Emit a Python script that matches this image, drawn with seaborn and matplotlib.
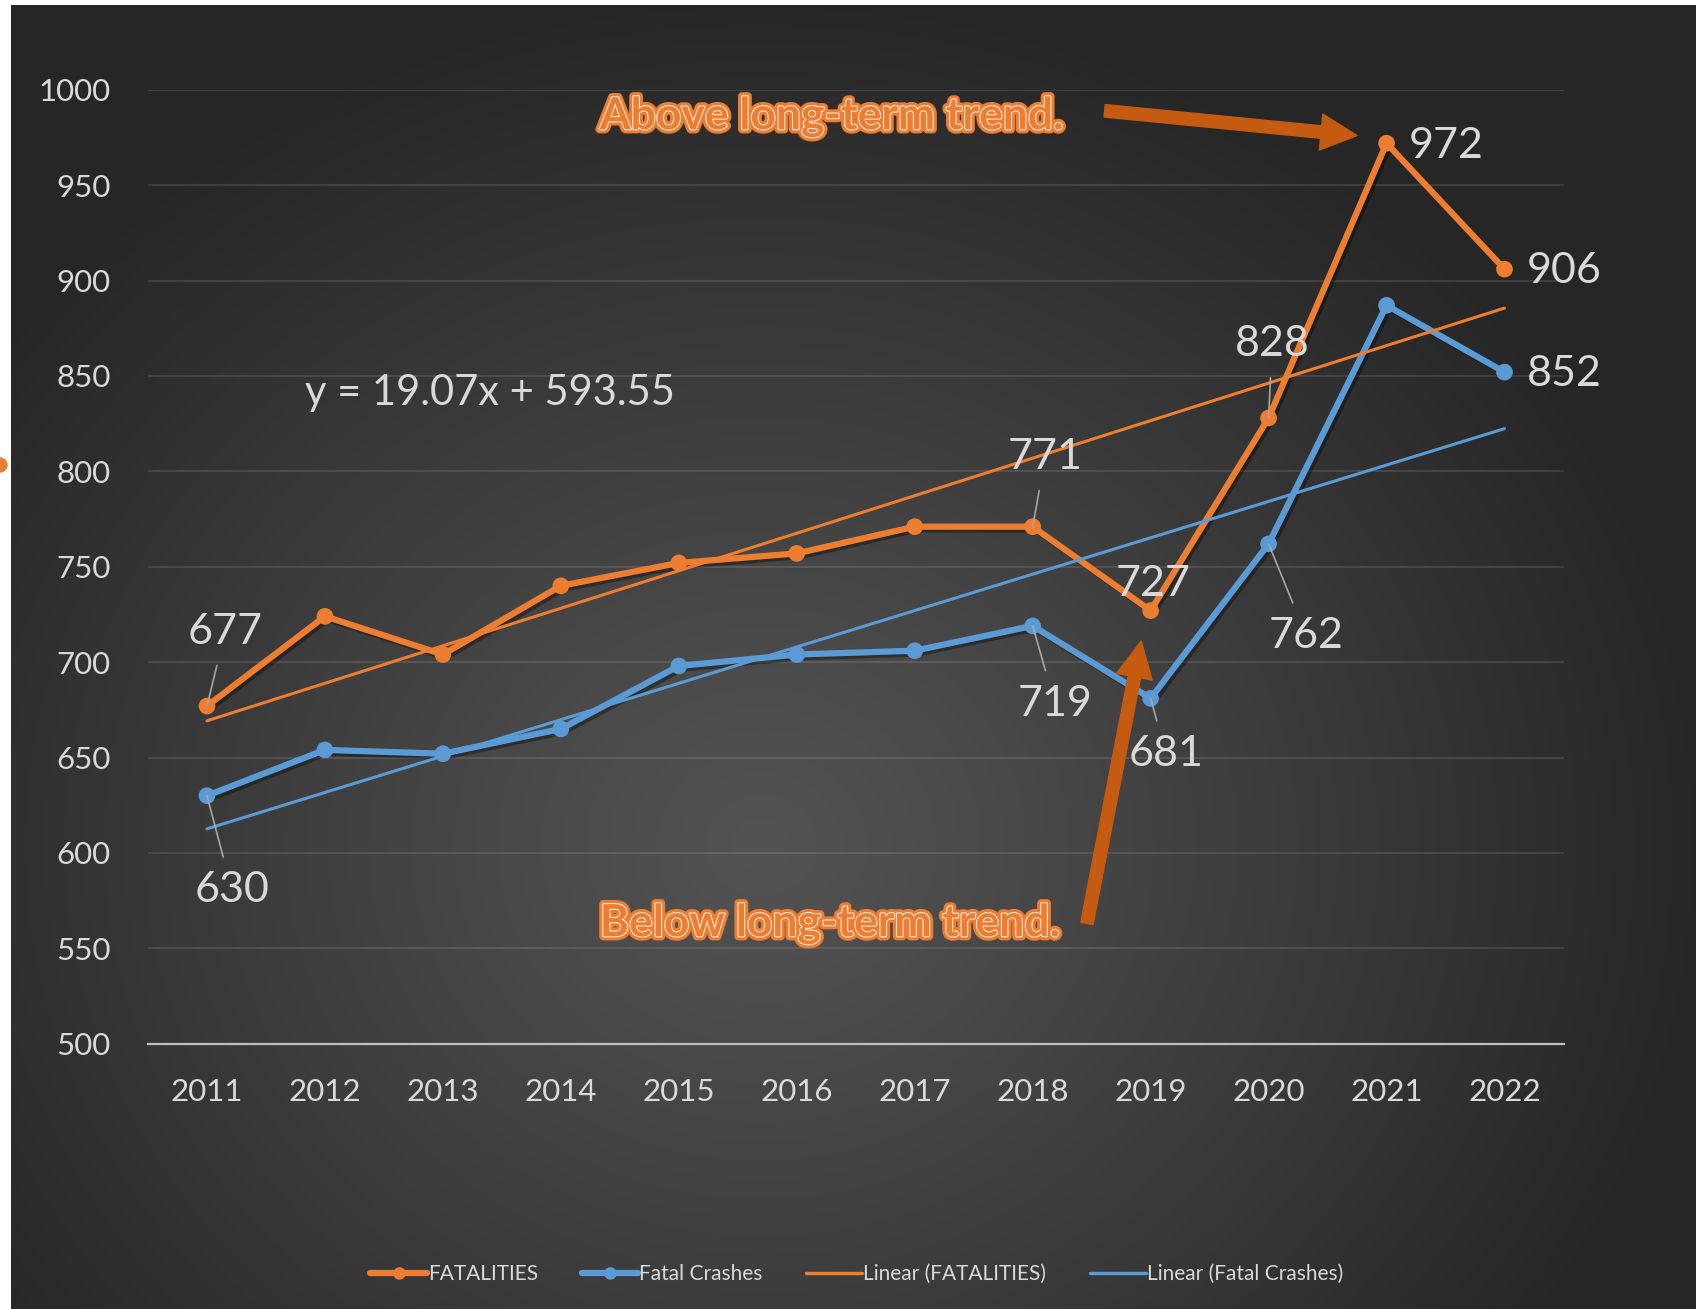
import numpy as np
import pandas as pd
import matplotlib
matplotlib.use("Agg")
import matplotlib.pyplot as plt
import matplotlib.patheffects as pe
from matplotlib.lines import Line2D
import seaborn as sns

# data
years = [2011, 2012, 2013, 2014, 2015, 2016, 2017, 2018, 2019, 2020, 2021, 2022]
fatalities = [677, 724, 704, 740, 752, 757, 771, 771, 727, 828, 972, 906]
fatal_crashes = [630, 654, 652, 665, 698, 704, 706, 719, 681, 762, 887, 852]
y_ticks = [500, 550, 600, 650, 700, 750, 800, 850, 900, 950, 1000]
equation = "y = 19.07x + 593.55"

ORANGE = "#ED7D31"
BLUE = "#5B9BD5"
ARROW = "#C55A11"
TXT = "#D9D9D9"

sns.set_style("white")
plt.rcParams['font.family'] = ['Lato', 'DejaVu Sans']

fig = plt.figure(figsize=(16.96, 13.09), dpi=100, facecolor="white")

# dark radial background
W, H = 1685, 1304
xx, yy = np.meshgrid(np.arange(W), np.arange(H))
r = np.sqrt(((xx - 750) / 1.0) ** 2 + ((yy - 840) / 0.9) ** 2)
t = np.clip(r / 950, 0, 1) ** 1.1
shade = (0x53 + (0x26 - 0x53) * t) / 255
bg = fig.add_axes([11 / 1696, 0, 1 - 11 / 1696, 1 - 5 / 1309], zorder=-5)
bg.imshow(np.dstack([shade, shade, shade]), aspect="auto", interpolation="bilinear")
bg.axis("off")

ax = fig.add_axes([148 / 1696, 1 - 1043.7 / 1309, 1415.5 / 1696, 953.9 / 1309])
ax.set_facecolor("none")

df = pd.DataFrame({
    "Year": years * 2,
    "Value": fatalities + fatal_crashes,
    "Series": ["FATALITIES"] * 12 + ["Fatal Crashes"] * 12,
})

shadow = [pe.SimpleLineShadow(offset=(2, -2), shadow_color="black", alpha=0.35), pe.Normal()]
sns.lineplot(data=df, x="Year", y="Value", hue="Series",
             palette={"FATALITIES": ORANGE, "Fatal Crashes": BLUE},
             marker="o", markersize=12, markeredgewidth=0, linewidth=4.5,
             legend=False, ax=ax, path_effects=shadow, zorder=3)

# linear trend lines
sns.regplot(x=years, y=fatalities, scatter=False, ci=None, color=ORANGE,
            line_kws={"lw": 2.2, "zorder": 4}, ax=ax)
sns.regplot(x=years, y=fatal_crashes, scatter=False, ci=None, color=BLUE,
            line_kws={"lw": 2.2, "zorder": 4}, ax=ax)

ax.set_xlim(2010.5, 2022.5)
ax.set_ylim(500, 1000)
ax.set_yticks(y_ticks)
ax.set_xticks(years)
ax.set_xticklabels([str(y) for y in years])
ax.set_xlabel("")
ax.set_ylabel("")
ax.tick_params(axis="y", labelsize=22.5, labelcolor=TXT, length=0, pad=27)
ax.tick_params(axis="x", labelsize=22.5, labelcolor=TXT, length=0, pad=25)
ax.grid(axis="y", color="white", alpha=0.12, lw=1.3)
ax.grid(axis="x", visible=False)
for s in ["top", "right", "left"]:
    ax.spines[s].set_visible(False)
ax.spines["bottom"].set_color("#BFBFBF")
ax.spines["bottom"].set_linewidth(1.6)
ax.spines["bottom"].set_zorder(1)

# data labels (offsets in points, with leader lines)
labels = [
    (2011, 677, (13, 53), True), (2018, 771, (9, 50), True),
    (2019, 727, (1.5, 19), False), (2020, 828, (2.5, 53), True),
    (2021, 972, (43, -2), False), (2022, 906, (43, -1), False),
    (2011, 630, (18, -68), True), (2018, 719, (16, -56), True),
    (2019, 681, (11, -40), True), (2020, 762, (27, -66), True),
    (2022, 852, (43, -1), False),
]
for x, y, off, lead in labels:
    ap = dict(arrowstyle="-", color="#A6A6A6", lw=1.2, shrinkA=8, shrinkB=0) if lead else None
    ax.annotate(str(y), xy=(x, y), xytext=off, textcoords="offset points",
                ha="center", va="center", fontsize=31, color=TXT,
                arrowprops=ap, zorder=6)

ax.text(2011.83, 841, equation, fontsize=30, color=TXT, ha="left", va="center")

# callouts
glow = [pe.Stroke(linewidth=6, foreground=ORANGE), pe.Stroke(linewidth=1.6, foreground="#FBE5D6"), pe.Normal()]
ax.text(2014.33, 986, "Above long-term trend.", fontsize=32, fontweight="bold",
        color=ORANGE, ha="left", va="center", path_effects=glow, zorder=7)
ax.text(2014.33, 563, "Below long-term trend.", fontsize=32, fontweight="bold",
        color=ORANGE, ha="left", va="center", path_effects=glow, zorder=7)
arrow_style = "simple,head_length=1.3,head_width=1.3,tail_width=0.45"
ax.annotate("", xy=(2020.75, 976), xytext=(2018.61, 989),
            arrowprops=dict(arrowstyle=arrow_style, color=ARROW, mutation_scale=20,
                            shrinkA=0, shrinkB=0), zorder=7)
ax.annotate("", xy=(2018.92, 711), xytext=(2018.46, 563),
            arrowprops=dict(arrowstyle=arrow_style, color=ARROW, mutation_scale=20,
                            shrinkA=0, shrinkB=0), zorder=7)

# legend
handles = [
    Line2D([], [], color=ORANGE, lw=4.5, marker="o", markersize=9, markeredgewidth=0),
    Line2D([], [], color=BLUE, lw=4.5, marker="o", markersize=9, markeredgewidth=0),
    Line2D([], [], color=ORANGE, lw=2.5),
    Line2D([], [], color=BLUE, lw=2.5),
]
leg = fig.legend(handles, ["FATALITIES", "Fatal Crashes", "Linear (FATALITIES)", "Linear (Fatal Crashes)"],
                 loc="center", bbox_to_anchor=(857 / 1696, 1 - 1274 / 1309), ncol=4,
                 frameon=False, fontsize=15, handlelength=2.7, handletextpad=0.05,
                 columnspacing=2.1)
for tx in leg.get_texts():
    tx.set_color(TXT)

# clipped marker at the left edge
fig.add_artist(plt.Circle((0.0, (1309 - 465) / 100), 0.07, transform=fig.dpi_scale_trans,
                          color=ORANGE, clip_on=False))

fig.savefig("out.png", dpi=100, facecolor="white")
